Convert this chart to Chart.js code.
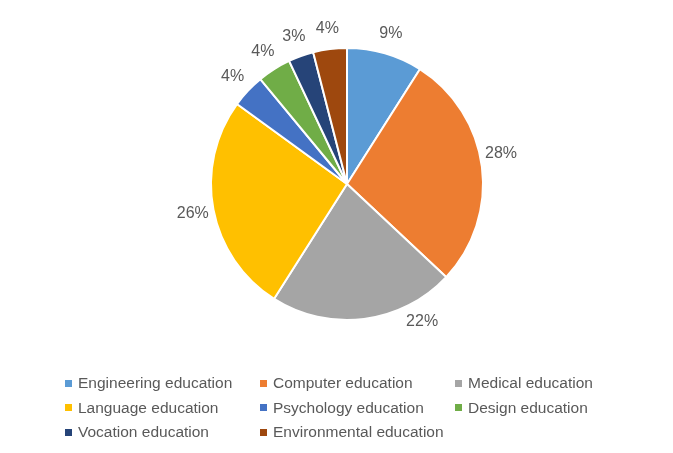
<!DOCTYPE html>
<html>
<head>
<meta charset="utf-8">
<script src="https://cdn.jsdelivr.net/npm/chart.js@4"></script>
<style>
  html, body { margin: 0; padding: 0; background: #fff; }
  #wrap { position: relative; width: 673px; height: 453px; }
  #legend {
    position: absolute; left: 65px; top: 374px;
    display: grid; grid-template-columns: 195px 195px 190px;
    row-gap: 6px;
    font-family: "Liberation Sans", Arial, sans-serif; font-size: 15.5px; color: #595959;
  }
  #legend div { display: flex; align-items: center; height: 18.5px; white-space: nowrap; }
  #legend span { display: inline-block; width: 7px; height: 7px; margin-right: 6px; }
</style>
</head>
<body>
<div id="wrap">
  <canvas id="pie" width="673" height="453"></canvas>
  <div id="legend"></div>
</div>
<script>
const categories = ["Engineering education", "Computer education", "Medical education", "Language education",
  "Psychology education", "Design education", "Vocation education", "Environmental education"];
const shares = [9, 28, 22, 26, 4, 4, 3, 4];
const colors = ["#5B9BD5", "#ED7D31", "#A5A5A5", "#FFC000", "#4472C4", "#70AD47", "#264478", "#9E480E"];
// where along its slice each label sits (0 = start, 1 = end), like Excel's best fit
const labelAlong = [0.5, 0.46, 0.23, 0.5, 0.5, 0.5, 0.5, 0.5];

// percent labels just outside each slice
const outsideLabels = {
  id: "outsideLabels",
  afterDatasetsDraw(chart) {
    const ctx = chart.ctx;
    const meta = chart.getDatasetMeta(0);
    ctx.save();
    ctx.font = "16px 'Liberation Sans', Arial, sans-serif";
    ctx.fillStyle = "#595959";
    ctx.textAlign = "center";
    ctx.textBaseline = "middle";
    meta.data.forEach((arc, i) => {
      const p = arc.getProps(["x", "y", "startAngle", "endAngle", "outerRadius"], true);
      const a = p.startAngle + (p.endAngle - p.startAngle) * labelAlong[i];
      const r = p.outerRadius + 21;
      ctx.fillText(shares[i] + "%", p.x + Math.cos(a) * r, p.y + Math.sin(a) * r);
    });
    ctx.restore();
  }
};

new Chart(document.getElementById("pie"), {
  type: "pie",
  data: {
    labels: categories,
    datasets: [{
      data: shares,
      backgroundColor: colors,
      borderColor: "#ffffff",
      borderWidth: 2
    }]
  },
  options: {
    responsive: false,
    animation: false,
    layout: { padding: { top: 47, bottom: 132, left: 210, right: 189 } },
    plugins: {
      legend: { display: false },
      tooltip: { enabled: false }
    }
  },
  plugins: [outsideLabels]
});

const legend = document.getElementById("legend");
categories.forEach((name, i) => {
  const item = document.createElement("div");
  item.innerHTML = '<span style="background:' + colors[i] + '"></span>' + name;
  legend.appendChild(item);
});
</script>
</body>
</html>
